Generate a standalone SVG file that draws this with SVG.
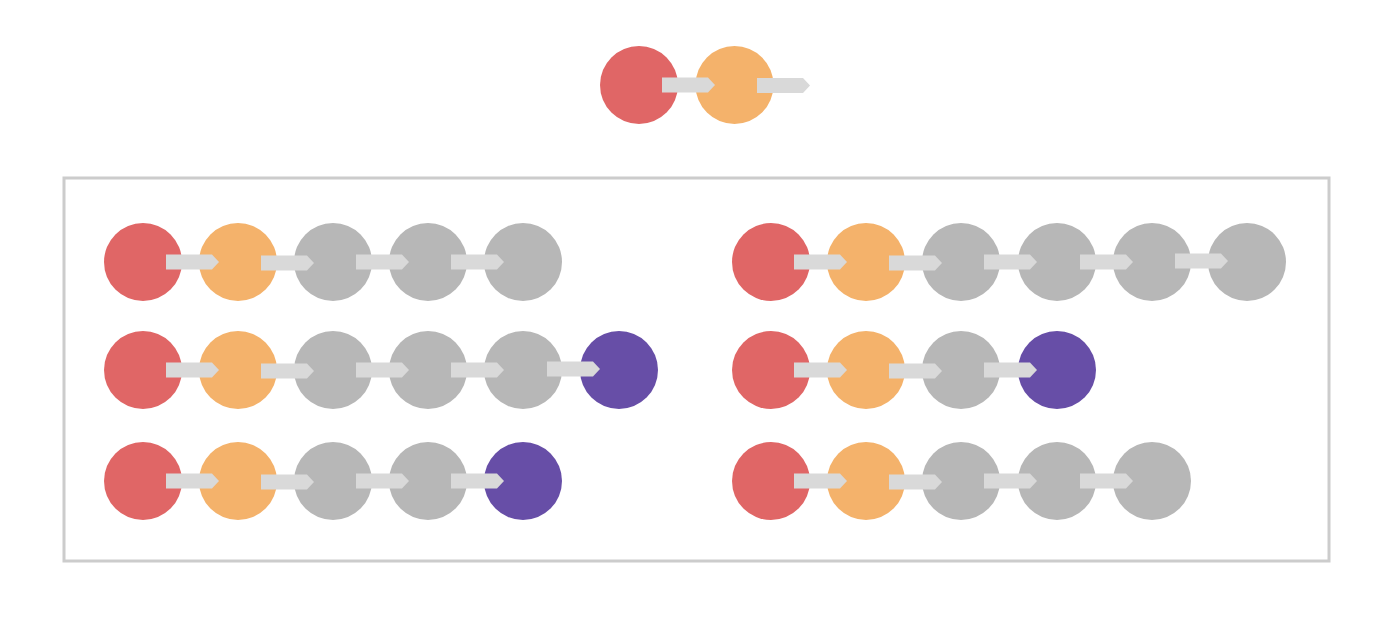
<svg xmlns="http://www.w3.org/2000/svg" xmlns:xlink="http://www.w3.org/1999/xlink" width="1400" height="623" viewBox="0 0 1400 623">
<style>
.r{fill:#E06666}.o{fill:#F4B26B}.g{fill:#B7B7B7}.p{fill:#674EA7}
.a{fill:#D9D9D9}
.box{fill:none;stroke:#CCCCCC;stroke-width:3}
</style>
<defs>
<path id="arr" d="M0,-7.5 H46 L53,0 L46,7.5 H0 Z"/>
</defs>
<rect width="1400" height="623" fill="#FFFFFF"/>
<rect id="frame" class="box" x="64" y="178" width="1265" height="383"/>
<g id="top">
<circle id="t1" class="r" cx="639" cy="85" r="39"/>
<circle id="t2" class="o" cx="734.5" cy="85" r="39"/>
</g>
<g id="row-l1">
<circle id="l1a" class="r" cx="143" cy="262" r="39"/>
<circle id="l1b" class="o" cx="238" cy="262" r="39"/>
<circle id="l1c" class="g" cx="333" cy="262" r="39"/>
<circle id="l1d" class="g" cx="428" cy="262" r="39"/>
<circle id="l1e" class="g" cx="523" cy="262" r="39"/>
</g>
<g id="row-l2">
<circle id="l2a" class="r" cx="143" cy="370" r="39"/>
<circle id="l2b" class="o" cx="238" cy="370" r="39"/>
<circle id="l2c" class="g" cx="333" cy="370" r="39"/>
<circle id="l2d" class="g" cx="428" cy="370" r="39"/>
<circle id="l2e" class="g" cx="523" cy="370" r="39"/>
<circle id="l2f" class="p" cx="619" cy="370" r="39"/>
</g>
<g id="row-l3">
<circle id="l3a" class="r" cx="143" cy="481" r="39"/>
<circle id="l3b" class="o" cx="238" cy="481" r="39"/>
<circle id="l3c" class="g" cx="333" cy="481" r="39"/>
<circle id="l3d" class="g" cx="428" cy="481" r="39"/>
<circle id="l3e" class="p" cx="523" cy="481" r="39"/>
</g>
<g id="row-r1">
<circle id="r1a" class="r" cx="771" cy="262" r="39"/>
<circle id="r1b" class="o" cx="866" cy="262" r="39"/>
<circle id="r1c" class="g" cx="961" cy="262" r="39"/>
<circle id="r1d" class="g" cx="1057" cy="262" r="39"/>
<circle id="r1e" class="g" cx="1152" cy="262" r="39"/>
<circle id="r1f" class="g" cx="1247" cy="262" r="39"/>
</g>
<g id="row-r2">
<circle id="r2a" class="r" cx="771" cy="370" r="39"/>
<circle id="r2b" class="o" cx="866" cy="370" r="39"/>
<circle id="r2c" class="g" cx="961" cy="370" r="39"/>
<circle id="r2d" class="p" cx="1057" cy="370" r="39"/>
</g>
<g id="row-r3">
<circle id="r3a" class="r" cx="771" cy="481" r="39"/>
<circle id="r3b" class="o" cx="866" cy="481" r="39"/>
<circle id="r3c" class="g" cx="961" cy="481" r="39"/>
<circle id="r3d" class="g" cx="1057" cy="481" r="39"/>
<circle id="r3e" class="g" cx="1152" cy="481" r="39"/>
</g>
<g id="connectors" class="a">
<use xlink:href="#arr" x="662" y="85"/>
<use xlink:href="#arr" x="757" y="85.5"/>

<use xlink:href="#arr" x="166" y="262"/>
<use xlink:href="#arr" x="261" y="263"/>
<use xlink:href="#arr" x="356" y="262"/>
<use xlink:href="#arr" x="451" y="262"/>

<use xlink:href="#arr" x="166" y="370"/>
<use xlink:href="#arr" x="261" y="371"/>
<use xlink:href="#arr" x="356" y="370"/>
<use xlink:href="#arr" x="451" y="370"/>
<use xlink:href="#arr" x="547" y="369"/>

<use xlink:href="#arr" x="166" y="481"/>
<use xlink:href="#arr" x="261" y="482"/>
<use xlink:href="#arr" x="356" y="481"/>
<use xlink:href="#arr" x="451" y="481"/>

<use xlink:href="#arr" x="794" y="262"/>
<use xlink:href="#arr" x="889" y="263"/>
<use xlink:href="#arr" x="984" y="262"/>
<use xlink:href="#arr" x="1080" y="262"/>
<use xlink:href="#arr" x="1175" y="261"/>

<use xlink:href="#arr" x="794" y="370"/>
<use xlink:href="#arr" x="889" y="371"/>
<use xlink:href="#arr" x="984" y="370"/>

<use xlink:href="#arr" x="794" y="481"/>
<use xlink:href="#arr" x="889" y="482"/>
<use xlink:href="#arr" x="984" y="481"/>
<use xlink:href="#arr" x="1080" y="481"/>
</g>
</svg>
